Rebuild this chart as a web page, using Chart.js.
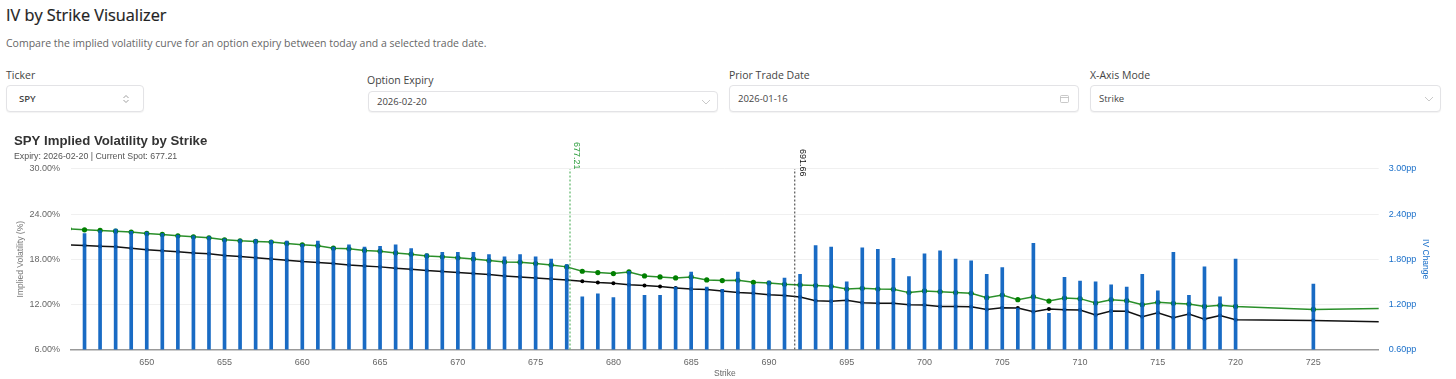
<!DOCTYPE html>
<html>
<head>
<meta charset="utf-8">
<title>IV by Strike Visualizer</title>
<script src="https://cdn.jsdelivr.net/npm/chart.js@4/dist/chart.umd.min.js"></script>
<style>
    html, body { margin: 0; padding: 0; background: #fff; overflow: hidden; }
    body { width: 1456px; height: 379px; position: relative; font-family: "Open Sans", sans-serif; color: #333; }
    .abs { position: absolute; white-space: nowrap; }
    h1 { position: absolute; left: 6px; top: 3px; margin: 0; font-size: 16.3px; line-height: 24px; font-weight: 400; color: #222; -webkit-text-stroke: 0.2px #222; }
    .sub { left: 6px; top: 36px; font-size: 10.5px; line-height: 14px; color: #666; }
    .lbl { font-size: 10.5px; line-height: 14px; color: #444; }
    .box { position: absolute; box-sizing: border-box; border: 1px solid #e3e3e6; border-radius: 4px; background: #fff;
           box-shadow: 0 1px 1px rgba(0,0,0,0.05); font-size: 9.5px; color: #444; padding-left: 8px; display: flex; align-items: center; }
    .box svg { position: absolute; right: 6px; }
    #chartWrap { position: absolute; left: 0; top: 128px; width: 1456px; height: 251px; }
</style>
</head>
<body>
<h1>IV by Strike Visualizer</h1>
<div class="abs sub">Compare the implied volatility curve for an option expiry between today and a selected trade date.</div>

<div class="abs lbl" style="left:6px;top:68px">Ticker</div>
<div class="box" style="left:6px;top:85px;width:138px;height:27px;padding-left:12px;font-weight:600">SPY
    <svg width="8" height="10" style="right:13px"><path d="M1.5 4 L4 1.5 L6.5 4 M1.5 6 L4 8.5 L6.5 6" fill="none" stroke="#888" stroke-width="0.8"/></svg>
</div>

<div class="abs lbl" style="left:367px;top:73px">Option Expiry</div>
<div class="box" style="left:368px;top:91px;width:350px;height:21px">2026-02-20
    <svg width="10" height="6" style="right:6px"><path d="M1 1 L5 5 L9 1" fill="none" stroke="#bbb" stroke-width="0.8"/></svg>
</div>

<div class="abs lbl" style="left:729px;top:68px">Prior Trade Date</div>
<div class="box" style="left:729px;top:85px;width:350px;height:27px">2026-01-16
    <svg width="9" height="9" style="right:9px"><rect x="0.5" y="1.5" width="8" height="7" rx="1" fill="none" stroke="#bbb" stroke-width="0.8"/><path d="M0.5 3.5 H8.5" stroke="#bbb" stroke-width="0.8"/></svg>
</div>

<div class="abs lbl" style="left:1090px;top:68px">X-Axis Mode</div>
<div class="box" style="left:1090px;top:85px;width:351px;height:27px">Strike
    <svg width="10" height="6" style="right:6px"><path d="M1 1 L5 5 L9 1" fill="none" stroke="#bbb" stroke-width="0.8"/></svg>
</div>

<div id="chartWrap"><canvas id="ivChart"></canvas></div>

<script>
const lineStrikes = [645, 646, 647, 648, 649, 650, 651, 652, 653, 654, 655, 656, 657, 658, 659, 660, 661, 662, 663, 664,
    665, 666, 667, 668, 669, 670, 671, 672, 673, 674, 675, 676, 677, 678, 679, 680, 681, 682, 683, 684,
    685, 686, 687, 688, 689, 690, 691, 692, 693, 694, 695, 696, 697, 698, 699, 700, 701, 702, 703, 704,
    705, 706, 707, 708, 709, 710, 711, 712, 713, 714, 715, 716, 717, 718, 719, 720, 725, 730];

// IV today (green)
const ivToday = [22.04, 21.91, 21.82, 21.73, 21.6, 21.42, 21.29, 21.11, 20.98, 20.84, 20.58, 20.44, 20.36, 20.27, 20.09, 19.91, 19.78, 19.47, 19.38, 19.16,
    19.07, 18.84, 18.67, 18.44, 18.31, 18.18, 18.04, 17.82, 17.64, 17.6, 17.42, 17.24, 16.98, 16.4, 16.22, 16.09, 16.31, 15.78, 15.64, 15.51,
    15.64, 15.24, 15.16, 15.2, 14.93, 14.84, 14.67, 14.58, 14.49, 14.4, 14.04, 14.13, 14.04, 14.0, 13.56, 13.78, 13.69, 13.56, 13.47, 12.89,
    13.24, 12.62, 13.02, 12.44, 12.84, 12.76, 12.18, 12.62, 12.49, 11.96, 12.27, 12.13, 12.04, 11.73, 11.87, 11.73, 11.33, 11.47];

// IV on the prior trade date (black)
const ivPrior = [19.91, 19.82, 19.73, 19.64, 19.47, 19.24, 19.11, 18.98, 18.84, 18.71, 18.49, 18.36, 18.18, 18.04, 17.87, 17.69, 17.56, 17.42, 17.24, 17.11,
    16.98, 16.8, 16.67, 16.49, 16.36, 16.22, 16.09, 15.96, 15.78, 15.64, 15.51, 15.38, 15.24, 15.07, 14.89, 14.8, 14.62, 14.49, 14.36, 14.18,
    14.04, 13.96, 13.78, 13.56, 13.47, 13.29, 13.16, 12.98, 12.49, 12.4, 12.53, 12.22, 12.13, 12.13, 11.96, 11.91, 11.73, 11.73, 11.69, 11.33,
    11.56, 11.51, 11.02, 11.38, 11.29, 11.24, 10.58, 11.11, 11.07, 10.36, 10.89, 10.22, 10.71, 10.04, 10.53, 9.96, 9.87, 9.64];

const barStrikes = [646, 647, 648, 649, 650, 651, 652, 653, 654, 655, 656, 657, 658, 659, 660, 661, 662, 663, 664,
    665, 666, 667, 668, 669, 670, 671, 672, 673, 674, 675, 676, 677, 678, 679, 680, 681, 682, 683, 684,
    685, 686, 687, 688, 689, 690, 691, 692, 693, 694, 695, 696, 697, 698, 699, 700, 701, 702, 703, 704,
    705, 706, 707, 708, 709, 710, 711, 712, 713, 714, 715, 716, 717, 718, 719, 720, 725];

// IV change in percentage points
const ivChange = [2.14, 2.18, 2.2, 2.17, 2.16, 2.14, 2.12, 2.11, 2.1, 2.07, 2.06, 2.06, 2.05, 2.04, 2.0, 2.04, 1.96, 1.99, 1.96,
    1.97, 1.99, 1.94, 1.87, 1.89, 1.89, 1.89, 1.86, 1.83, 1.86, 1.83, 1.8, 1.73, 1.3, 1.34, 1.29, 1.64, 1.32, 1.32, 1.43,
    1.63, 1.43, 1.4, 1.63, 1.46, 1.51, 1.55, 1.6, 1.98, 1.96, 1.5, 1.95, 1.93, 1.81, 1.57, 1.87, 1.91, 1.8, 1.78, 1.6,
    1.69, 1.15, 2.01, 1.08, 1.56, 1.51, 1.5, 1.46, 1.43, 1.6, 1.38, 1.89, 1.32, 1.7, 1.3, 1.8, 1.47];

const ivTicks = [6, 12, 18, 24, 30];
const changeTicks = [0.6, 1.2, 1.8, 2.4, 3.0];
const strikeTicks = [650, 655, 660, 665, 670, 675, 680, 685, 690, 695, 700, 705, 710, 715, 720, 725];

const currentSpot = 677.21;
const priorSpot = 691.66;

function toPoints(xs, ys) {
    return xs.map((x, i) => ({ x: x, y: ys[i] }));
}

function setTicks(values) {
    return scale => { scale.ticks = values.map(v => ({ value: v })); };
}

// rotated spot labels above the vertical markers
const spotLabels = {
    id: "spotLabels",
    afterDatasetsDraw(chart) {
        const { ctx, scales } = chart;
        const items = [
            { value: currentSpot, text: currentSpot.toFixed(2), color: "#2e9e3e", top: 14, shift: 6 },
            { value: priorSpot, text: priorSpot.toFixed(2), color: "#111", top: 21, shift: 8 }
        ];
        items.forEach(item => {
            ctx.save();
            ctx.translate(scales.x.getPixelForValue(item.value) + item.shift, item.top);
            ctx.rotate(Math.PI / 2);
            ctx.font = "9px 'Liberation Sans'";
            ctx.fillStyle = item.color;
            ctx.textAlign = "left";
            ctx.textBaseline = "middle";
            ctx.fillText(item.text, 0, 0);
            ctx.restore();
        });
    }
};

new Chart(document.getElementById("ivChart"), {
    data: {
        datasets: [
            {
                type: "bar",
                data: toPoints(barStrikes, ivChange),
                yAxisID: "yChange",
                backgroundColor: "rgba(8, 96, 192, 0.93)",
                barThickness: 3,
                order: 1
            },
            {
                type: "line",
                data: toPoints(lineStrikes, ivToday),
                yAxisID: "yIv",
                borderColor: "#2a8f2a",
                borderWidth: 1.5,
                pointBackgroundColor: "#008000",
                pointBorderWidth: 0,
                pointRadius: 2.6,
                tension: 0,
                order: 2
            },
            {
                type: "line",
                data: toPoints(lineStrikes, ivPrior),
                yAxisID: "yIv",
                borderColor: "#111",
                borderWidth: 1.5,
                pointBackgroundColor: "#000",
                pointBorderWidth: 0,
                pointRadius: 2,
                tension: 0,
                order: 3
            },
            {
                type: "line",
                data: toPoints([currentSpot, currentSpot], [6, 30]),
                yAxisID: "yIv",
                borderColor: "#3aa648",
                borderWidth: 1,
                borderDash: [2, 2],
                pointRadius: 0,
                order: 0
            },
            {
                type: "line",
                data: toPoints([priorSpot, priorSpot], [6, 30]),
                yAxisID: "yIv",
                borderColor: "#333",
                borderWidth: 1,
                borderDash: [2, 2],
                pointRadius: 0,
                order: 0
            }
        ]
    },
    options: {
        responsive: true,
        maintainAspectRatio: false,
        animation: false,
        layout: { padding: { left: 14, right: 24, top: 5, bottom: 0 } },
        plugins: {
            legend: { display: false },
            tooltip: { enabled: false },
            title: {
                display: true,
                text: "SPY Implied Volatility by Strike",
                align: "start",
                color: "#333",
                font: { family: "'Liberation Sans'", size: 13.2, weight: "bold" },
                padding: { top: 0, bottom: 2 }
            },
            subtitle: {
                display: true,
                text: "Expiry: 2026-02-20 | Current Spot: 677.21",
                align: "start",
                color: "#555",
                font: { family: "'Liberation Sans'", size: 8.8 },
                padding: { top: 0, bottom: 7.5 }
            }
        },
        scales: {
            x: {
                type: "linear",
                offset: false,
                min: 645.13,
                max: 729.2,
                afterBuildTicks: setTicks(strikeTicks),
                afterFit(scale) { scale.height = 29.5; },
                grid: { display: false, drawTicks: true, tickLength: 5, tickColor: "#999" },
                border: { color: "#999", width: 1.5 },
                ticks: {
                    color: "#666",
                    font: { family: "'Liberation Sans'", size: 9 },
                    maxRotation: 0,
                    autoSkip: false,
                    padding: 3
                },
                title: {
                    display: true,
                    text: "Strike",
                    color: "#666",
                    font: { family: "'Liberation Sans'", size: 8.5 },
                    padding: { top: -2, bottom: 0 }
                }
            },
            yIv: {
                position: "left",
                min: 6,
                max: 30,
                afterBuildTicks: setTicks(ivTicks),
                afterFit(scale) { scale.width = 57; },
                grid: { color: "#f0f0f0", lineWidth: 1, drawTicks: false },
                border: { display: false },
                ticks: {
                    color: "#666",
                    font: { family: "'Liberation Sans'", size: 9 },
                    padding: 11,
                    callback: v => v.toFixed(2) + "%"
                },
                title: {
                    display: true,
                    text: "Implied Volatility (%)",
                    color: "#777",
                    font: { family: "'Liberation Sans'", size: 8.5 },
                    padding: { top: 2, bottom: 0 }
                }
            },
            yChange: {
                position: "right",
                min: 0.6,
                max: 3,
                afterBuildTicks: setTicks(changeTicks),
                afterFit(scale) { scale.width = 53.3; },
                grid: { display: false, drawTicks: false },
                border: { display: false },
                ticks: {
                    color: "#1a6fc9",
                    font: { family: "'Liberation Sans'", size: 9 },
                    padding: 10,
                    callback: v => v.toFixed(2) + "pp"
                },
                title: {
                    display: true,
                    text: "IV Change",
                    color: "#1a6fc9",
                    font: { family: "'Liberation Sans'", size: 8.5 },
                    padding: { top: 2, bottom: 0 }
                }
            }
        }
    },
    plugins: [spotLabels]
});
</script>
</body>
</html>
